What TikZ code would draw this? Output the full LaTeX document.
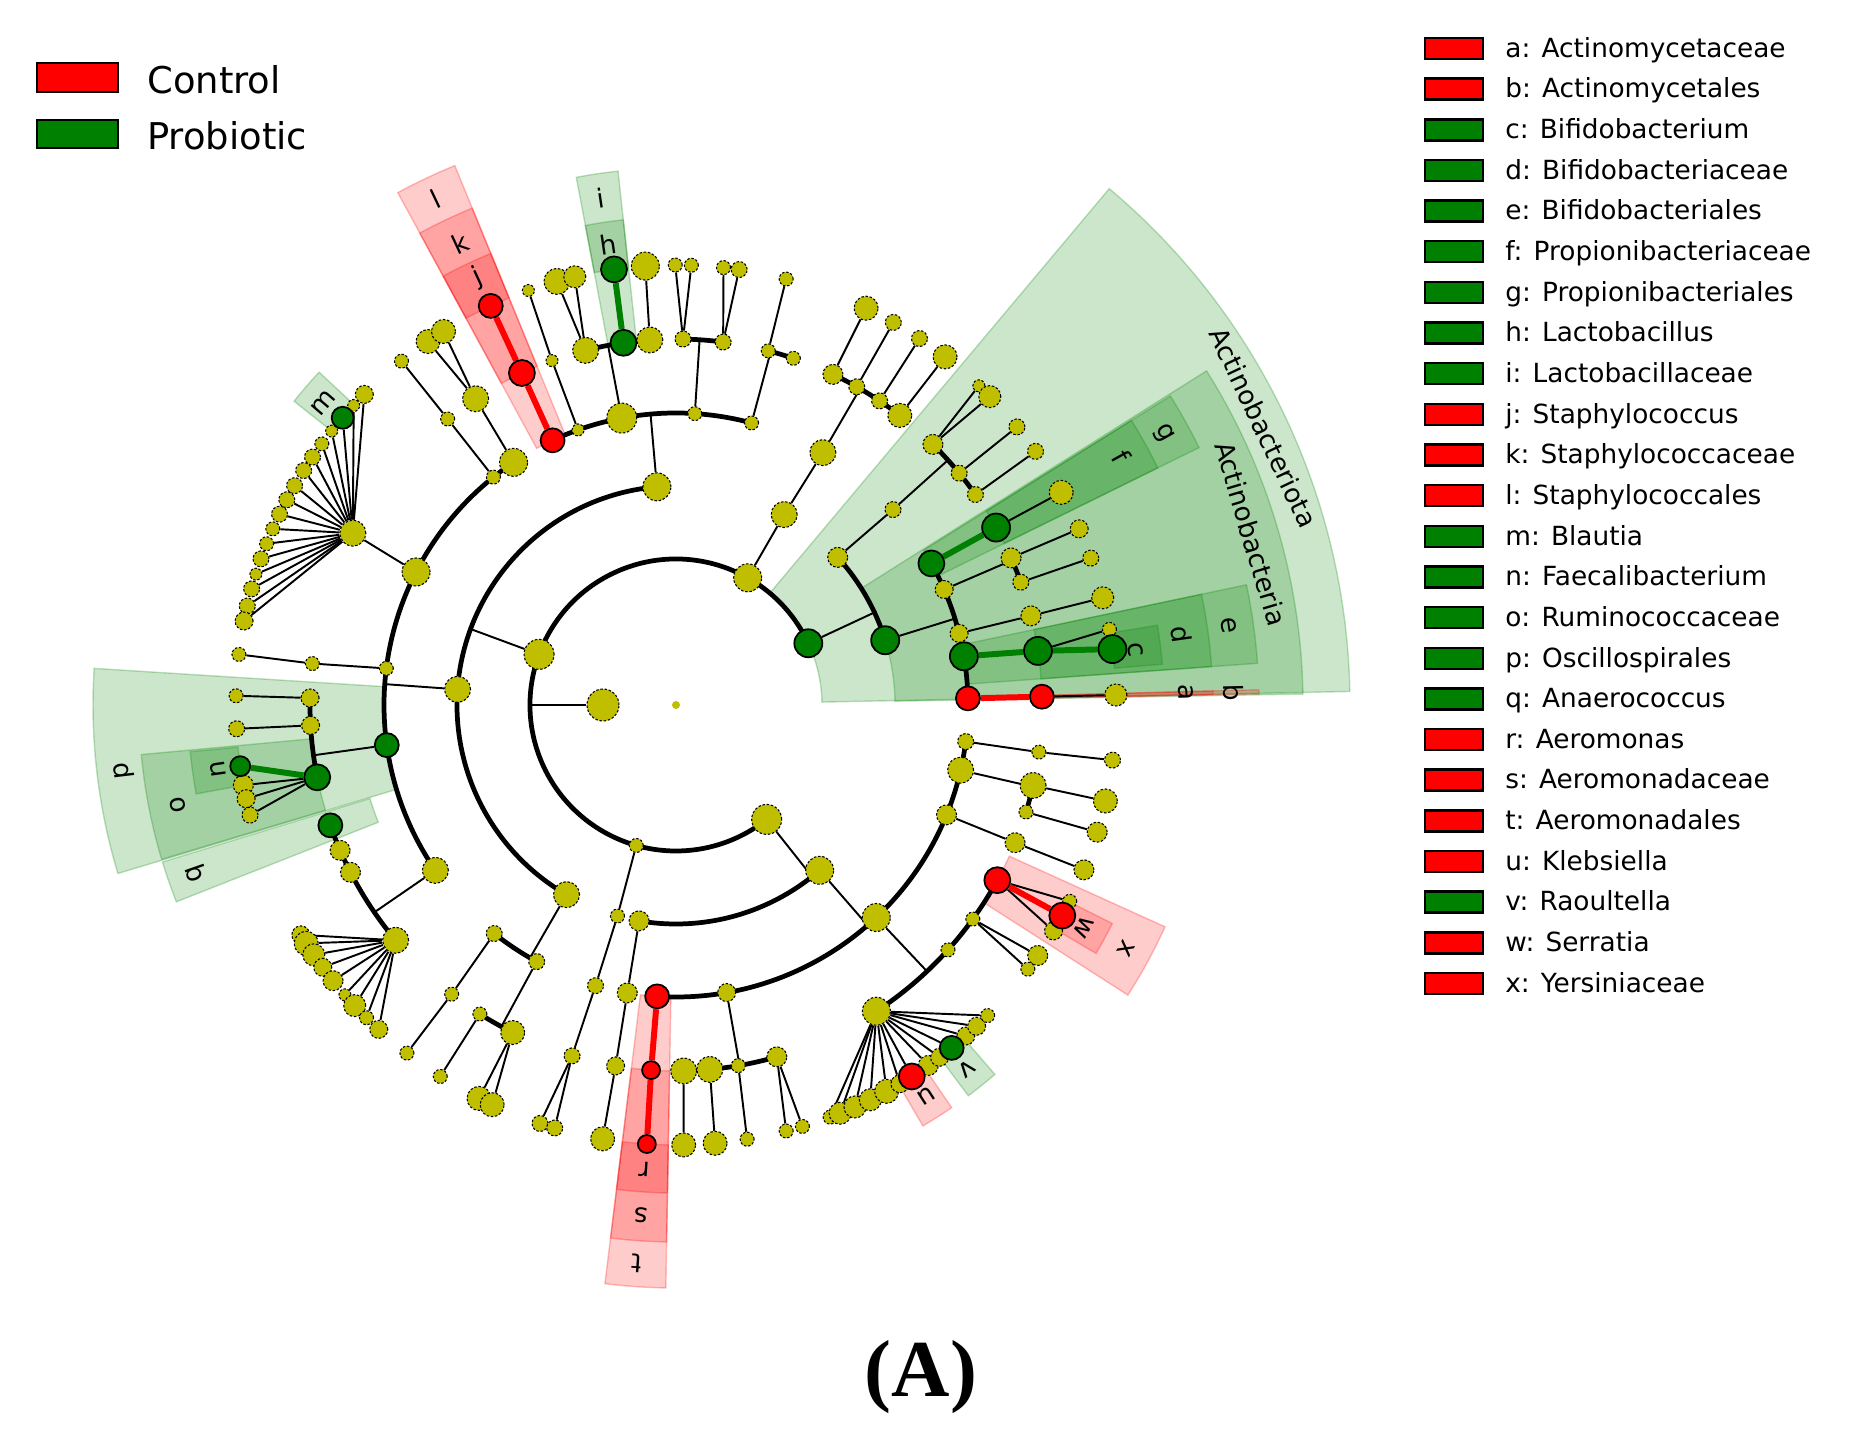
\documentclass[tikz,border=0pt]{standalone}
\usepackage{fontspec}
\setmainfont{DejaVu Sans}
\newfontfamily\panelfont{Liberation Serif}

\definecolor{yel}{rgb}{0.75,0.75,0}
\definecolor{grn}{rgb}{0,0.5,0}

\pgfdeclarelayer{wedges}
\pgfdeclarelayer{lines}
\pgfsetlayers{wedges,lines,main}

% level radii (px)
\def\rKi{73}
\def\rPh{146}
\def\rCl{219}
\def\rOr{292}
\def\rFa{366}
\def\rGe{440}

\tikzset{
  ynode/.style={circle, inner sep=0pt, fill=yel, draw=black, line width=0.6pt, dash pattern=on 1.4pt off 1pt},
  rnode/.style={circle, inner sep=0pt, fill=red, draw=black, line width=1pt},
  gnode/.style={circle, inner sep=0pt, fill=grn, draw=black, line width=1pt},
  link/.style={line width=1.1pt},
  arcline/.style={line width=2.7pt},
  rlink/.style={line width=3.4pt, red},
  glink/.style={line width=3.4pt, grn},
  lab/.style={font=\fontsize{15}{18}\selectfont, inner sep=0pt},
  legbox/.style={draw=black, line width=1.4pt, inner sep=0pt, minimum width=1.16cm, minimum height=0.42cm},
  legtext/.style={font=\fontsize{15}{18}\selectfont, anchor=base west, inner sep=0pt},
}

\newcommand{\tnode}[5][ynode]{\node[#1, minimum size=#5*0.04cm] (#2) at (#3:#4) {};}
\newcommand{\cstem}[3]{\coordinate (#1-j) at (#2:#3);
  \begin{pgfonlayer}{lines}\draw[link] (#1) -- (#1-j);\end{pgfonlayer}}
\newcommand{\sibs}[4]{\begin{pgfonlayer}{lines}
  \draw[arcline] (#1.center) arc[start angle=#3, end angle=#4, radius=#2];\end{pgfonlayer}}
\newcommand{\twig}[3][link]{\begin{pgfonlayer}{lines}\draw[#1] (#2) -- (#3);\end{pgfonlayer}}
\newcommand{\clade}[5]{\begin{pgfonlayer}{wedges}
  \filldraw[#1, fill opacity=0.2, draw opacity=0.25, line width=0.8pt]
    (#2:#4) arc[start angle=#2, end angle=#3, radius=#4] -- (#3:#5)
    arc[start angle=#3, end angle=#2, radius=#5] -- cycle;\end{pgfonlayer}}
\newcommand{\clab}[4]{\node[lab, rotate=#2-90] (#1) at (#2:#3) {#4};}

\begin{document}
\begin{tikzpicture}[x=0.02cm, y=0.02cm]
\useasboundingbox (-676,-727) rectangle (1179,705);

% shaded clades
\clade{grn}{1.15}{50}{146}{674}
\clade{grn}{1}{32.2}{219}{627}
\clade{grn}{26.2}{32}{292}{583}
\clade{grn}{26.2}{32}{366}{537}
\clade{grn}{4.1}{11.9}{292}{583}
\clade{grn}{4.1}{11.9}{366}{537}
\clade{grn}{4.8}{9.4}{440}{488}
\clade{red}{1.1}{1.5}{292}{583}
\clade{red}{1.1}{1.5}{366}{537}
\clade{grn}{96.2}{100.7}{366}{537}
\clade{grn}{96.2}{100.7}{440}{488}
\clade{red}{112.3}{118.5}{292}{583}
\clade{red}{112.3}{118.5}{366}{537}
\clade{red}{112.3}{118.5}{440}{488}
\clade{grn}{137}{141.5}{440}{488}
\clade{grn}{176.4}{196.8}{292}{583}
\clade{grn}{185.3}{196.7}{366}{537}
\clade{grn}{185.5}{190.5}{440}{488}
\clade{grn}{197}{201.5}{320}{537}
\clade{red}{263}{269}{292}{583}
\clade{red}{263}{269}{366}{537}
\clade{red}{263}{269}{440}{488}
\clade{red}{300.4}{304.4}{440}{488}
\clade{grn}{306.8}{310.8}{440}{488}
\clade{red}{327.3}{335.6}{366}{537}
\clade{red}{329.4}{333.4}{440}{488}

% root, kingdom, phyla
\node[circle, inner sep=0pt, fill=yel, minimum size=0.16cm] (root) at (0,0) {};
\tnode{king}{180}{\rKi}{16}
\tnode[gnode]{pActino}{25}{\rPh}{14}
\tnode{pP2}{60.6}{\rPh}{14}
\tnode{pFirmi}{159.7}{\rPh}{15}
\tnode{pP4}{254.2}{\rPh}{7}
\tnode{pProteo}{308.4}{\rPh}{15}
\cstem{king}{180}{\rPh}
\sibs{pActino}{\rPh}{25}{308.4}

% classes
\tnode[gnode]{cActino}{17.2}{\rCl}{14}
\tnode{cC1b}{42.4}{\rCl}{10}
\cstem{pActino}{25}{\rCl}
\sibs{cActino}{\rCl}{17.2}{42.4}
\tnode{cP2}{60.4}{\rCl}{13}
\twig{pP2}{cP2}
\tnode{cBacil}{95}{\rCl}{14}
\tnode{cClost}{175.9}{\rCl}{13}
\tnode{cC3c}{240}{\rCl}{13}
\cstem{pFirmi}{159.7}{\rCl}
\sibs{cBacil}{\rCl}{95}{240}
\tnode{cP4}{254.5}{\rCl}{7}
\twig{pP4}{cP4}
\tnode{cP5a}{260.3}{\rCl}{10}
\tnode{cGamma}{311}{\rCl}{14}
\cstem{pProteo}{308.4}{\rCl}
\sibs{cP5a}{\rCl}{260.3}{311}

% orders
\tnode[rnode]{oActino}{1.3}{\rOr}{12}
\tnode[gnode]{oBifido}{9.6}{\rOr}{14}
\tnode{oA3}{14.2}{\rOr}{9}
\tnode{oA4}{23.3}{\rOr}{9}
\tnode[gnode]{oPropi}{29}{\rOr}{13}
\cstem{cActino}{17.2}{\rOr}
\sibs{oActino}{\rOr}{1.3}{29}
\tnode{oB1}{42}{\rOr}{8}
\twig{cC1b}{oB1}
\tnode{oP2}{59.8}{\rOr}{13}
\twig{cP2}{oP2}
\tnode{oBa1}{75}{\rOr}{7}
\tnode{oBa2}{86.3}{\rOr}{7}
\tnode{oLacto}{100.7}{\rOr}{15}
\tnode{oBa4}{109.6}{\rOr}{6}
\tnode[rnode]{oStaph}{115}{\rOr}{12}
\cstem{cBacil}{95}{\rOr}
\sibs{oBa1}{\rOr}{75}{115}
\tnode{oC1}{123.8}{\rOr}{14}
\tnode{oC2}{128.7}{\rOr}{7}
\tnode{oC3}{152.9}{\rOr}{14}
\tnode{oC4}{172.8}{\rOr}{7}
\tnode[gnode]{oOscil}{187.9}{\rOr}{12}
\tnode{oC6}{214.5}{\rOr}{13}
\cstem{cClost}{175.9}{\rOr}
\sibs{oC1}{\rOr}{123.8}{214.5}
\tnode{oE1}{231.5}{\rOr}{8}
\tnode{oE2}{241.5}{\rOr}{8}
\cstem{cC3c}{240}{\rOr}
\sibs{oE1}{\rOr}{231.5}{241.5}
\tnode{oP4}{254}{\rOr}{8}
\twig{cP4}{oP4}
\tnode{oP5a}{260.4}{\rOr}{10}
\twig{cP5a}{oP5a}
\tnode[rnode]{oAero}{266.3}{\rOr}{12}
\tnode{oG2}{280}{\rOr}{9}
\tnode{oEntero}{313.3}{\rOr}{14}
\tnode{oG4}{337.9}{\rOr}{10}
\tnode{oG5}{347.1}{\rOr}{13}
\tnode{oG6}{352.8}{\rOr}{8}
\cstem{cGamma}{311}{\rOr}
\sibs{oAero}{\rOr}{266.3}{352.8}

% families
\tnode[rnode]{fActino}{1.3}{\rFa}{12}
\twig[rlink]{oActino}{fActino}
\tnode[gnode]{fBifido}{8.5}{\rFa}{14}
\twig[glink]{oBifido}{fBifido}
\tnode{fA3}{14.1}{\rFa}{10}
\twig{oA3}{fA3}
\tnode{fA4a}{23.7}{\rFa}{10}
\tnode{fA4b}{19.6}{\rFa}{8}
\cstem{oA4}{23.3}{\rFa}
\sibs{fA4b}{\rFa}{19.6}{23.7}
\tnode[gnode]{fPropi}{29}{\rFa}{14}
\twig[glink]{oPropi}{fPropi}
\tnode{fB1a}{45.4}{\rFa}{10}
\tnode{fB1b}{39.3}{\rFa}{8}
\tnode{fB1c}{35.1}{\rFa}{8}
\cstem{oB1}{42}{\rFa}
\sibs{fB1c}{\rFa}{35.1}{45.4}
\tnode{fP2a}{64.6}{\rFa}{10}
\tnode{fP2b}{60.4}{\rFa}{8}
\tnode{fP2c}{56.2}{\rFa}{8}
\tnode{fP2d}{52.3}{\rFa}{12}
\cstem{oP2}{59.8}{\rFa}
\sibs{fP2d}{\rFa}{52.3}{64.6}
\tnode{fBa1a}{75.4}{\rFa}{7}
\tnode{fBa1b}{71.3}{\rFa}{7}
\cstem{oBa1}{75}{\rFa}
\sibs{fBa1b}{\rFa}{71.3}{75.4}
\tnode{fBa2a}{88.9}{\rFa}{8}
\tnode{fBa2b}{82.6}{\rFa}{8}
\cstem{oBa2}{86.3}{\rFa}
\sibs{fBa2b}{\rFa}{82.6}{88.9}
\tnode{fLa1}{104.3}{\rFa}{13}
\tnode[gnode]{fLacto}{98.25}{\rFa}{13}
\tnode{fLa3}{94.1}{\rFa}{13}
\cstem{oLacto}{100.7}{\rFa}
\sibs{fLa3}{\rFa}{94.1}{104.3}
\tnode{fBa4}{109.8}{\rFa}{6}
\twig{oBa4}{fBa4}
\tnode[rnode]{fStaph}{114.9}{\rFa}{13}
\twig[rlink]{oStaph}{fStaph}
\tnode{fC1}{123.2}{\rFa}{13}
\twig{oC1}{fC1}
\tnode{fC2}{128.6}{\rFa}{7}
\twig{oC2}{fC2}
\tnode{fC3}{152}{\rFa}{13}
\twig{oC3}{fC3}
\tnode{fC4}{173.5}{\rFa}{7}
\twig{oC4}{fC4}
\tnode{fOs1}{178.9}{\rFa}{9}
\tnode{fOs2}{183.2}{\rFa}{9}
\tnode[gnode]{fRumino}{191.4}{\rFa}{13}
\cstem{oOscil}{187.9}{\rFa}
\sibs{fOs1}{\rFa}{178.9}{191.4}
\tnode[gnode]{fAnaero}{199.2}{\rFa}{12}
\tnode{fC6b}{203.4}{\rFa}{10}
\tnode{fC6c}{207.2}{\rFa}{10}
\tnode{fC6d}{220}{\rFa}{13}
\cstem{oC6}{214.5}{\rFa}
\sibs{fAnaero}{\rFa}{199.2}{220}
\tnode{fE1}{232.2}{\rFa}{7}
\twig{oE1}{fE1}
\tnode{fE2a}{237.6}{\rFa}{7}
\tnode{fE2b}{243.5}{\rFa}{12}
\cstem{oE2}{241.5}{\rFa}
\sibs{fE2a}{\rFa}{237.6}{243.5}
\tnode{fP4}{253.5}{\rFa}{8}
\twig{oP4}{fP4}
\tnode{fP5a}{260.5}{\rFa}{9}
\twig{oP5a}{fP5a}
\tnode[rnode]{fAero}{266.1}{\rFa}{9}
\twig[rlink]{oAero}{fAero}
\tnode{fG2a}{271.2}{\rFa}{13}
\tnode{fG2b}{275.3}{\rFa}{13}
\tnode{fG2c}{279.8}{\rFa}{7}
\tnode{fG2d}{286}{\rFa}{10}
\cstem{oG2}{280}{\rFa}
\sibs{fG2a}{\rFa}{271.2}{286}
\tnode{fEntero}{303.2}{\rFa}{14}
\tnode{fG3b}{318}{\rFa}{7}
\tnode{fG3c}{324.2}{\rFa}{7}
\tnode[rnode]{fYersi}{331.4}{\rFa}{13}
\cstem{oEntero}{313.3}{\rFa}
\sibs{fEntero}{\rFa}{303.2}{331.4}
\tnode{fG4}{337.9}{\rFa}{10}
\twig{oG4}{fG4}
\tnode{fG5a}{347.3}{\rFa}{13}
\tnode{fG5b}{343}{\rFa}{7}
\cstem{oG5}{347.1}{\rFa}
\sibs{fG5b}{\rFa}{343}{347.3}
\tnode{fG6}{352.6}{\rFa}{7}
\twig{oG6}{fG6}

% genera
\tnode{gA1}{1.3}{\rGe}{11} \twig{fActino}{gA1}
\tnode{gD2}{9.9}{\rGe}{7} \twig{fBifido}{gD2}
\tnode[gnode]{gBifido}{7.3}{\rGe}{14} \twig[glink]{fBifido}{gBifido}
\tnode{gA3}{14.1}{\rGe}{11} \twig{fA3}{gA3}
\tnode{gA4a}{23.6}{\rGe}{9} \twig{fA4a}{gA4a}
\tnode{gA4b}{19.5}{\rGe}{8} \twig{fA4b}{gA4b}
\tnode{gPropi}{28.9}{\rGe}{12} \twig{fPropi}{gPropi}
\tnode{gB1a}{46.5}{\rGe}{6} \twig{fB1a}{gB1a}
\tnode{gB1b}{44.5}{\rGe}{11} \twig{fB1a}{gB1b}
\tnode{gB1c}{39.2}{\rGe}{8} \twig{fB1b}{gB1c}
\tnode{gB1d}{35.2}{\rGe}{8} \twig{fB1c}{gB1d}
\tnode{gP2a}{64.4}{\rGe}{12} \twig{fP2a}{gP2a}
\tnode{gP2b}{60.4}{\rGe}{8} \twig{fP2b}{gP2b}
\tnode{gP2c}{56.4}{\rGe}{8} \twig{fP2c}{gP2c}
\tnode{gP2d}{52.3}{\rGe}{12} \twig{fP2d}{gP2d}
\tnode{gBa1}{75.5}{\rGe}{7} \twig{fBa1a}{gBa1}
\tnode{gBa2a}{90.1}{\rGe}{7} \twig{fBa2a}{gBa2a}
\tnode{gBa2b}{88}{\rGe}{7} \twig{fBa2a}{gBa2b}
\tnode{gBa2c}{83.8}{\rGe}{7} \twig{fBa2b}{gBa2c}
\tnode{gBa2d}{81.75}{\rGe}{8} \twig{fBa2b}{gBa2d}
\tnode{gLa1a}{105.7}{\rGe}{13} \twig{fLa1}{gLa1a}
\tnode{gLa1b}{103.3}{\rGe}{11} \twig{fLa1}{gLa1b}
\tnode{gLa3}{94}{\rGe}{14} \twig{fLa3}{gLa3}
\tnode[gnode]{gLacto}{98.1}{\rGe}{13} \twig[glink]{fLacto}{gLacto}
\tnode{gBa4}{109.6}{\rGe}{6} \twig{fBa4}{gBa4}
\tnode[rnode]{gStaph}{114.9}{\rGe}{12} \twig[rlink]{fStaph}{gStaph}
\tnode{gC1a}{124.3}{\rGe}{12} \twig{fC1}{gC1a}
\tnode{gC1b}{121.9}{\rGe}{12} \twig{fC1}{gC1b}
\tnode{gC2}{128.6}{\rGe}{7} \twig{fC2}{gC2}
\foreach \a/\s [count=\i] in {135.1/9, 137.1/6, 141.5/6, 143.6/7, 145.7/8, 147.8/8, 150.1/8,
    152.2/8, 154.3/8, 156.4/7, 158.5/7, 160.6/8, 162.7/6, 164.7/8, 167/8, 169/9}{
  \tnode{fanC\i}{\a}{\rGe}{\s} \twig{fC3}{fanC\i}}
\tnode[gnode]{gBlautia}{139.25}{\rGe}{11} \twig{fC3}{gBlautia}
\tnode{gC4}{173.4}{\rGe}{7} \twig{fC4}{gC4}
\tnode{gOs1}{178.8}{\rGe}{7} \twig{fOs1}{gOs1}
\tnode{gOs2}{183.1}{\rGe}{8} \twig{fOs2}{gOs2}
\tnode{gRu1}{190.5}{\rGe}{10} \twig{fRumino}{gRu1}
\tnode{gRu2}{192.3}{\rGe}{9} \twig{fRumino}{gRu2}
\tnode{gRu3}{194.5}{\rGe}{8} \twig{fRumino}{gRu3}
\tnode[gnode]{gFaecal}{188}{\rGe}{10} \twig[glink]{fRumino}{gFaecal}
\foreach \a/\s [count=\i] in {211.5/9, 212.8/12, 214.6/11, 216.6/9, 218.8/10, 221.2/6,
    223.1/11, 225.3/7, 227.5/9}{
  \tnode{fanD\i}{\a}{\rGe}{\s} \twig{fC6d}{fanD\i}}
\tnode{gE1}{232.3}{\rGe}{7} \twig{fE1}{gE1}
\tnode{gE2a}{237.6}{\rGe}{7} \twig{fE2a}{gE2a}
\tnode{gE2b}{243.4}{\rGe}{12} \twig{fE2b}{gE2b}
\tnode{gE2c}{245.3}{\rGe}{12} \twig{fE2b}{gE2c}
\tnode{gP4a}{252}{\rGe}{8} \twig{fP4}{gP4a}
\tnode{gP4b}{254}{\rGe}{8} \twig{fP4}{gP4b}
\tnode{gP5a}{260.4}{\rGe}{12} \twig{fP5a}{gP5a}
\tnode[rnode]{gAero}{266.2}{\rGe}{9} \twig[rlink]{fAero}{gAero}
\tnode{gG2a}{271}{\rGe}{12} \twig{fG2a}{gG2a}
\tnode{gG2b}{275.1}{\rGe}{12} \twig{fG2b}{gG2b}
\tnode{gG2c}{279.3}{\rGe}{7} \twig{fG2c}{gG2c}
\tnode{gG2d}{284.5}{\rGe}{7} \twig{fG2d}{gG2d}
\tnode{gG2e}{286.7}{\rGe}{7} \twig{fG2d}{gG2e}
\foreach \a/\s [count=\i] in {290.5/7, 291.9/11, 294/11, 296.2/11, 298.6/12, 300.6/9,
    305/10, 306.8/9, 311.2/9, 313.1/9, 315.1/7}{
  \tnode{fanE\i}{\a}{\rGe}{\s} \twig{fEntero}{fanE\i}}
\tnode[rnode]{gKlebs}{302.4}{\rGe}{13} \twig{fEntero}{gKlebs}
\tnode[gnode]{gRaoul}{308.8}{\rGe}{12} \twig{fEntero}{gRaoul}
\tnode{gG3a}{325.3}{\rGe}{10} \twig{fG3c}{gG3a}
\tnode{gG3b}{323.1}{\rGe}{7} \twig{fG3c}{gG3b}
\tnode{gYe1}{333.5}{\rGe}{7} \twig{fYersi}{gYe1}
\tnode{gYe2}{329.1}{\rGe}{9} \twig{fYersi}{gYe2}
\tnode[rnode]{gSerrat}{331.4}{\rGe}{13} \twig[rlink]{fYersi}{gSerrat}
\tnode{gG4}{338}{\rGe}{10} \twig{fG4}{gG4}
\tnode{gG5a}{347.4}{\rGe}{12} \twig{fG5a}{gG5a}
\tnode{gG5b}{343.2}{\rGe}{10} \twig{fG5b}{gG5b}
\tnode{gG6}{352.8}{\rGe}{8} \twig{fG6}{gG6}

% clade labels
\clab{lab-phylum}{25.3}{650}{Actinobacteriota}
\clab{lab-class}{16.6}{600}{Actinobacteria}
\clab{lab-g}{29.1}{558}{g}
\clab{lab-f}{29.1}{510}{f}
\clab{lab-e}{8.2}{558}{e}
\clab{lab-d}{8}{510}{d}
\clab{lab-c}{6.9}{463}{c}
\clab{lab-b}{1.3}{558}{b}
\clab{lab-a}{1.4}{510}{a}
\clab{lab-i}{98.5}{513}{i}
\clab{lab-h}{98.3}{466}{h}
\clab{lab-l}{115.4}{560}{l}
\clab{lab-k}{115}{510}{k}
\clab{lab-j}{114.9}{472}{j}
\clab{lab-m}{139.4}{464}{m}
\clab{lab-p}{186.8}{556}{p}
\clab{lab-o}{191.3}{508}{o}
\clab{lab-n}{188}{462}{n}
\clab{lab-q}{199.3}{508}{q}
\clab{lab-t}{266}{560}{t}
\clab{lab-s}{266.1}{511}{s}
\clab{lab-r}{266.1}{466}{r}
\clab{lab-u}{302.6}{464}{u}
\clab{lab-v}{308.6}{466}{v}
\clab{lab-w}{331.4}{464}{w}
\clab{lab-x}{331.6}{512}{x}

% group legend
\node[legbox, fill=red, minimum width=1.62cm, minimum height=0.58cm] (keyCtrl) at (-598.5,627.5) {};
\node[legbox, fill=grn, minimum width=1.62cm, minimum height=0.56cm] (keyProb) at (-598.5,571) {};
\node[font=\fontsize{21}{25}\selectfont, anchor=base west, inner sep=0pt] (txtCtrl) at (-529,611) {Control};
\node[font=\fontsize{21}{25}\selectfont, anchor=base west, inner sep=0pt] (txtProb) at (-529,555) {Probiotic};

% clade legend
\foreach \txt/\col [count=\i from 0] in {
    a: Actinomycetaceae/red, b: Actinomycetales/red, c: Bifidobacterium/grn,
    d: Bifidobacteriaceae/grn, e: Bifidobacteriales/grn, f: Propionibacteriaceae/grn,
    g: Propionibacteriales/grn, h: Lactobacillus/grn, i: Lactobacillaceae/grn,
    j: Staphylococcus/red, k: Staphylococcaceae/red, l: Staphylococcales/red,
    m: Blautia/grn, n: Faecalibacterium/grn, o: Ruminococcaceae/grn,
    p: Oscillospirales/grn, q: Anaerococcus/grn, r: Aeromonas/red,
    s: Aeromonadaceae/red, t: Aeromonadales/red, u: Klebsiella/red,
    v: Raoultella/grn, w: Serratia/red, x: Yersiniaceae/red}{
  \node[legbox, fill=\col] (key\i) at (778, {656.5-40.65*\i}) {};
  \node[legtext] (txt\i) at (829, {647.7-40.65*\i}) {\txt};
}

% panel tag
\node[font=\panelfont\bfseries\fontsize{46}{50}\selectfont, inner sep=0pt] (panel) at (245,-672) {(A)};
\end{tikzpicture}
\end{document}
